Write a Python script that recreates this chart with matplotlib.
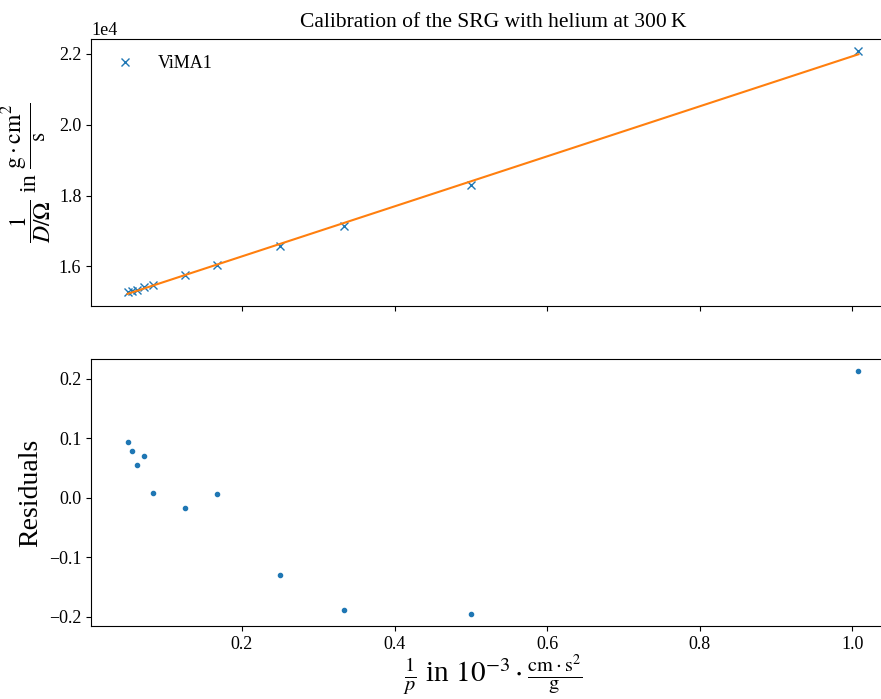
import matplotlib
matplotlib.use("Agg")
import matplotlib.pyplot as plt
import numpy as np

# 1/p values (10^-3 cm s^2 / g)
inv_p = [0.05, 0.0556, 0.0625, 0.0714, 0.0833, 0.125, 0.1667, 0.25, 0.3333, 0.5, 1.008]
# 1/(D/Omega) in g cm^2 / s
inv_d = [15277, 15309, 15346, 15415, 15468, 15749, 16054, 16572, 17129, 18298, 22076]
# residuals as shown in the lower panel
residuals = [0.094, 0.079, 0.056, 0.070, 0.0088, -0.0165, 0.0064, -0.129, -0.188, -0.195, 0.213]

plt.rcParams.update({
    "font.family": "serif",
    "font.serif": ["Liberation Serif", "DejaVu Serif"],
    "mathtext.fontset": "stix",
    "font.size": 13,
})

x = np.array(inv_p)
y = np.array(inv_d)
slope, intercept = np.polyfit(x, y, 1)

fig = plt.figure(figsize=(8.81, 6.99), dpi=100)
ax1 = fig.add_axes([0.1033, 0.5622, 0.9126, 0.382])
ax2 = fig.add_axes([0.1033, 0.1044, 0.9126, 0.382], sharex=ax1)

ax1.plot(x, y, "x", label="ViMA1")
ax1.plot(x, slope * x + intercept, "-")
ax1.ticklabel_format(axis="y", style="sci", scilimits=(0, 0))
ax1.set_ylabel(r"$\dfrac{1}{D/\Omega}$ in $\dfrac{\mathrm{g}\cdot\mathrm{cm}^2}{\mathrm{s}}$",
               fontsize=17)
ax1.set_title("Calibration of the SRG with helium at 300\u2009K", fontsize=15.5, pad=9)
ax1.legend(loc="upper left", frameon=False, fontsize=13)
ax1.tick_params(labelbottom=False)

ax2.plot(x, residuals, ".")
ax2.set_ylabel("Residuals", fontsize=20)
ax2.set_xlabel(r"$\frac{1}{p}$ in $10^{-3}\cdot\frac{\mathrm{cm}\cdot\mathrm{s}^2}{\mathrm{g}}$",
               fontsize=21, labelpad=0)

fig.savefig("out.png", dpi=100)
